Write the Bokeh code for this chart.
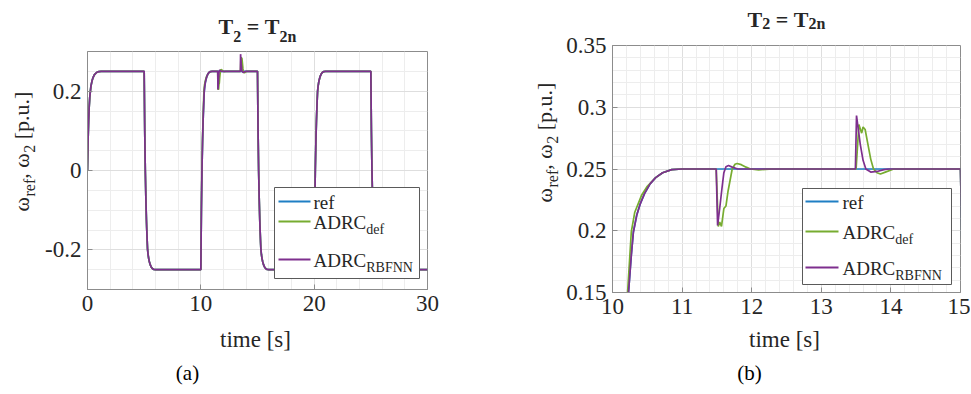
import math
from bokeh.plotting import figure
from bokeh.layouts import row, column
from bokeh.models import Label, BoxAnnotation, FixedTicker, Range1d, CustomJSTickFormatter
from bokeh.embed import file_html
from bokeh.resources import INLINE

# ---------------- data ----------------
T_START = [0.0, 0.05, 0.1, 0.15, 0.2, 0.3, 0.4, 0.5, 0.6, 0.8, 1.0, 1.2]
W_START = [0.0, 0.075, 0.125, 0.16, 0.185, 0.212, 0.226, 0.235, 0.241, 0.247, 0.2495, 0.25]

T_FALL5 = [5.0, 5.05, 5.1, 5.15, 5.2, 5.23, 5.27, 5.3, 5.35, 5.4, 5.46, 5.54, 5.62, 5.72, 5.85, 6.0]
W_FALL5 = [0.25, 0.1, 0.0, -0.07, -0.125, -0.15, -0.18, -0.199, -0.213, -0.222, -0.23, -0.238, -0.243, -0.247, -0.2495, -0.25]

T_RISE10 = [10.0, 10.05, 10.1, 10.15, 10.2, 10.23, 10.27, 10.3, 10.35, 10.4, 10.46, 10.54, 10.62, 10.72, 10.85, 11.0]
W_RISE10 = [-0.25, -0.1, 0.0, 0.07, 0.125, 0.15, 0.18, 0.199, 0.213, 0.222, 0.23, 0.238, 0.243, 0.247, 0.2495, 0.25]

T_RISE10_DEF = [10.0, 10.05, 10.1, 10.15, 10.2, 10.23, 10.27, 10.32, 10.37, 10.42, 10.5, 10.62, 10.72, 10.85, 11.0]
W_RISE10_DEF = [-0.25, -0.09, 0.01, 0.08, 0.135, 0.162, 0.199, 0.215, 0.222, 0.229, 0.236, 0.243, 0.247, 0.2495, 0.25]

T_HOLD_REF = [11.5, 13.5]
W_HOLD_REF = [0.25, 0.25]

T_DIST_RBF = [11.49, 11.51, 11.54, 11.57, 11.6, 11.63, 11.667, 11.72, 11.8,
              13.49, 13.506, 13.53, 13.56, 13.6, 13.64, 13.71, 13.8, 13.9, 13.97]
W_DIST_RBF = [0.25, 0.2043, 0.218, 0.233, 0.247, 0.2518, 0.2528, 0.2515, 0.25,
              0.25, 0.2933, 0.283, 0.27, 0.257, 0.25, 0.2475, 0.248, 0.2495, 0.25]

T_DIST_DEF = [11.49, 11.52, 11.54, 11.566, 11.6, 11.63, 11.66, 11.72, 11.76, 11.79, 11.85, 11.92, 11.98, 12.1, 12.2, 12.3,
              13.5, 13.54, 13.58, 13.6, 13.63, 13.67, 13.71, 13.75, 13.8, 13.85, 13.92, 14.04]
W_DIST_DEF = [0.25, 0.2035, 0.207, 0.2035, 0.218, 0.22, 0.232, 0.25, 0.2538, 0.2545, 0.2535, 0.2515, 0.25, 0.2492, 0.2497, 0.25,
              0.25, 0.286, 0.279, 0.284, 0.282, 0.27, 0.258, 0.25, 0.247, 0.246, 0.2475, 0.25]

T_FALL15 = [15.0, 15.05, 15.1, 15.15, 15.2, 15.23, 15.27, 15.3, 15.35, 15.4, 15.46, 15.54, 15.62, 15.72, 15.85, 16.0]
W_FALL15 = [0.25, 0.1, 0.0, -0.07, -0.125, -0.15, -0.18, -0.199, -0.213, -0.222, -0.23, -0.238, -0.243, -0.247, -0.2495, -0.25]

T_RISE20 = [20.0, 20.05, 20.1, 20.15, 20.2, 20.23, 20.27, 20.3, 20.35, 20.4, 20.46, 20.54, 20.62, 20.72, 20.85, 21.0]
W_RISE20 = [-0.25, -0.1, 0.0, 0.07, 0.125, 0.15, 0.18, 0.199, 0.213, 0.222, 0.23, 0.238, 0.243, 0.247, 0.2495, 0.25]

T_FALL25 = [25.0, 25.05, 25.1, 25.15, 25.2, 25.23, 25.27, 25.3, 25.35, 25.4, 25.46, 25.54, 25.62, 25.72, 25.85, 26.0]
W_FALL25 = [0.25, 0.1, 0.0, -0.07, -0.125, -0.15, -0.18, -0.199, -0.213, -0.222, -0.23, -0.238, -0.243, -0.247, -0.2495, -0.25]

T_END = [30.0]
W_END = [-0.25]

t_ref = T_START + T_FALL5 + T_RISE10 + T_HOLD_REF + T_FALL15 + T_RISE20 + T_FALL25 + T_END
w_ref = W_START + W_FALL5 + W_RISE10 + W_HOLD_REF + W_FALL15 + W_RISE20 + W_FALL25 + W_END
t_def = T_START + T_FALL5 + T_RISE10_DEF + T_DIST_DEF + T_FALL15 + T_RISE20 + T_FALL25 + T_END
w_def = W_START + W_FALL5 + W_RISE10_DEF + W_DIST_DEF + W_FALL15 + W_RISE20 + W_FALL25 + W_END
t_rbf = T_START + T_FALL5 + T_RISE10 + T_DIST_RBF + T_FALL15 + T_RISE20 + T_FALL25 + T_END
w_rbf = W_START + W_FALL5 + W_RISE10 + W_DIST_RBF + W_FALL15 + W_RISE20 + W_FALL25 + W_END

SERIES = [("ref", t_ref, w_ref, "#1f7fc4"),
          ("ADRC_def", t_def, w_def, "#77AC30"),
          ("ADRC_RBFNN", t_rbf, w_rbf, "#7E2F8E")]

XTICKS_A = [0, 10, 20, 30]
YTICKS_A = [-0.2, 0, 0.2]
XTICKS_B = [10, 11, 12, 13, 14, 15]
YTICKS_B = [0.15, 0.2, 0.25, 0.3, 0.35]

# ---------------- helpers ----------------
FONT = "Liberation Serif"
TXT = "#262626"
MID = 0.3375   # centre of the font's ascent/descent box above the baseline, in em
W_REG = {'A': 722, 'D': 722, 'R': 667, 'C': 667, 'B': 667, 'F': 556, 'N': 722, 'r': 333, 'e': 444,
         'f': 333, 'd': 500, 'p': 500, 'u': 500, '.': 250, ',': 250, ' ': 250, '[': 333, ']': 333,
         '2': 500, 'n': 500, 'ω': 680, 't': 278, 'i': 278, 'm': 778, 's': 389}
W_BOLD = {'T': 667, '=': 570, ' ': 250, '2': 500, 'n': 556}


def twidth(s, size, bold=False):
    tbl = W_BOLD if bold else W_REG
    return sum(tbl.get(c, 500) for c in s) * size / 1000.0


class Canvas:
    """Places text by page pixel coordinates of its baseline; (x0, y0) is the top-left
    of the figure's frame in page pixels and (w, h) the frame size."""
    def __init__(self, p, x0, y0, w, h):
        self.p, self.x0, self.y0, self.w, self.h = p, x0, y0, w, h

    def label(self, x, y, text, size, bold=False, align="left", rotated=False, color=TXT):
        if rotated:
            x, angle = x - MID * size, math.pi / 2
        else:
            y, angle = y - MID * size, 0.0
        self.p.add_layout(Label(x=x - self.x0, y=self.h - (y - self.y0), x_units="screen", y_units="screen",
                                text=text, angle=angle, text_align=align, text_baseline="middle",
                                text_font=FONT, text_font_size=f"{size}px",
                                text_font_style="bold" if bold else "normal", text_color=color))

    def rich(self, x0, y0, pieces, rotated=False, color=TXT):
        pos = 0.0
        for text, size, shift, bold in pieces:
            core = text.strip(" ")
            lead = len(text) - len(text.lstrip(" "))
            trail = len(text) - len(text.rstrip(" "))
            pos += twidth(" " * lead, size, bold)
            if rotated:
                self.label(x0 + shift, y0 - pos, core, size, bold, rotated=True, color=color)
            else:
                self.label(x0 + pos, y0 + shift, core, size, bold, color=color)
            pos += twidth(core, size, bold) + twidth(" " * trail, size, bold)

    def box(self, l, t, r, b, fill="white", line="#5a5a5a", lw=1.0):
        self.p.add_layout(BoxAnnotation(left=l - self.x0, right=r - self.x0,
                                        top=self.h - (t - self.y0), bottom=self.h - (b - self.y0),
                                        left_units="screen", right_units="screen",
                                        top_units="screen", bottom_units="screen",
                                        fill_color=fill, fill_alpha=1.0,
                                        line_color=line if line else "white",
                                        line_alpha=1.0 if line else 0.0, line_width=lw))


def text_fig(x0, y0, w, h):
    p = figure(width=w, height=h, output_backend="svg", toolbar_location=None, title=None,
               x_range=Range1d(0, w), y_range=Range1d(0, h), x_axis_type=None, y_axis_type=None,
               min_border=0, min_border_left=0, min_border_right=0, min_border_top=0, min_border_bottom=0)
    p.outline_line_color = None
    p.background_fill_color = "white"
    p.border_fill_color = "white"
    p.xgrid.visible = False
    p.ygrid.visible = False
    return p, Canvas(p, x0, y0, w, h)


def plot_fig(width, height, borders, xr, yr, xt, xminor, yt, yminor):
    l, r, t, b = borders
    p = figure(width=width, height=height, output_backend="svg", toolbar_location=None, title=None,
               x_range=Range1d(*xr), y_range=Range1d(*yr),
               min_border_left=l, min_border_right=r, min_border_top=t, min_border_bottom=b)
    p.background_fill_color = "white"
    p.border_fill_color = "white"
    p.outline_line_color = "#8c8c8c"
    p.xaxis.ticker = FixedTicker(ticks=xt, minor_ticks=xminor)
    p.yaxis.ticker = FixedTicker(ticks=yt, minor_ticks=yminor)
    fmt = CustomJSTickFormatter(code="return String(Math.round(tick*1000)/1000);")
    for ax in (p.xaxis[0], p.yaxis[0]):
        ax.formatter = fmt
        ax.major_tick_in = 5
        ax.major_tick_out = 0
        ax.minor_tick_in = 0
        ax.minor_tick_out = 0
        ax.axis_line_color = "#8c8c8c"
        ax.major_tick_line_color = "#8c8c8c"
        ax.major_label_text_font = FONT
        ax.major_label_text_font_size = "23px"
        ax.major_label_text_color = TXT
        ax.major_label_standoff = 6
    for g in (p.xgrid[0], p.ygrid[0]):
        g.grid_line_color = "#dedede"
        g.minor_grid_line_color = "#ededed"
    for name, tx, wy, col in SERIES:
        p.line(tx, wy, line_color=col, line_width=1.7)
    return p


def title(cv, cx, base, sub_shift):
    pcs = [("T", 22, 0, True), ("2", 16, sub_shift, True), (" = ", 22, 0, True),
           ("T", 22, 0, True), ("2n", 16, sub_shift, True)]
    tw = sum(twidth(s, z, b) for s, z, _, b in pcs)
    cv.rich(cx - tw / 2, base, pcs)


def ylabel(cv, bx, y0):
    cv.rich(bx, y0, [("ω", 22, 0, False), ("ref", 16, 6, False), (", ", 22, 0, False),
                     ("ω", 22, 0, False), ("2", 16, 6, False), (" [p.u.]", 22, 0, False)], rotated=True)


def legend(cv, boxc, xl0, xl1, xtx, rows_y, fs, ss):
    cv.box(*boxc)
    labels = [[("ref", fs, 0, False)],
              [("ADRC", fs, 0, False), ("def", ss, 6, False)],
              [("ADRC", fs, 0, False), ("RBFNN", ss, 6, False)]]
    for (name, tx, wy, col), ry, pcs in zip(SERIES, rows_y, labels):
        cv.box(xl0, ry - 0.9, xl1, ry + 0.9, fill=col, line=None)
        cv.rich(xtx, ry + 7, pcs)


# ---------------- panel (a) ----------------
XR_A, YR_A = (0, 30), (-0.3, 0.3)
tA, cvTA = text_fig(0, 0, 483, 50)
yA, cvYA = text_fig(0, 50, 42, 275)
mA = plot_fig(441, 275, (45, 56, 1, 36), XR_A, YR_A, XTICKS_A, list(range(0, 31, 2)),
              YTICKS_A, [round(-0.3 + 0.05 * i, 2) for i in range(13)])
cvMA = Canvas(mA, 87, 51, 340, 238)
bA, cvBA = text_fig(0, 325, 483, 65)

title(cvTA, 257, 33, 8)
ylabel(cvYA, 28, 247)
legend(cvMA, (274, 187, 419, 278), 278, 310, 313, [201, 221, 259], 19, 14)
cvBA.label(255, 347, "time [s]", 23, align="center")
cvBA.label(187, 380, "(a)", 21, align="center", color="black")

# ---------------- panel (b) ----------------
XR_B, YR_B = (10, 15), (0.15, 0.35)
tB, cvTB = text_fig(483, 0, 487, 32)
yB, cvYB = text_fig(483, 32, 79, 293)
mB = plot_fig(408, 293, (50, 10, 13, 33), XR_B, YR_B, XTICKS_B, [round(10 + 0.2 * i, 1) for i in range(26)],
              YTICKS_B, [round(0.15 + 0.01 * i, 2) for i in range(21)])
cvMB = Canvas(mB, 612, 45, 348, 247)
bB, cvBB = text_fig(483, 325, 487, 65)

title(cvTB, 786, 26.5, 2)
ylabel(cvYB, 551, 235)
legend(cvMB, (802, 188, 951, 284), 805, 838, 842, [201, 231, 267], 19, 14)
cvBB.label(784, 347, "time [s]", 23, align="center")
cvBB.label(749, 380, "(b)", 21, align="center", color="black")

layout = row(column(tA, row(yA, mA), bA), column(tB, row(yB, mB), bB))
open("out.html", "w").write(file_html(layout, INLINE))
